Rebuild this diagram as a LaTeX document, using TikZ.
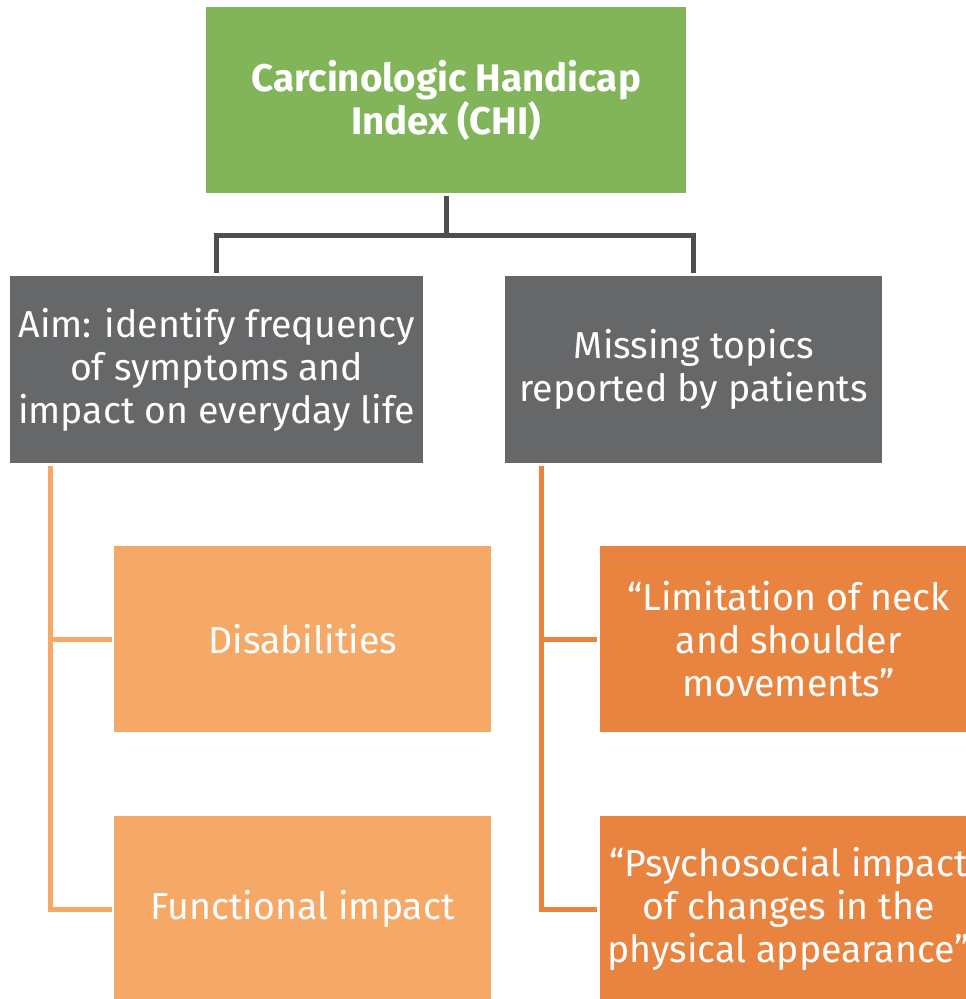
\documentclass[tikz,border=0pt]{standalone}
\usepackage{fontspec}
\setmainfont{Fira Sans}
\definecolor{chigreen}{HTML}{82B45A}
\definecolor{boxgray}{HTML}{666769}
\definecolor{linegray}{HTML}{4D4E50}
\definecolor{lightorange}{HTML}{F6A866}
\definecolor{darkorange}{HTML}{E8843F}
\begin{document}
\begin{tikzpicture}[x=1pt,y=-1pt,
  box/.style={rectangle, inner sep=0pt, anchor=north west, text=white, align=center,
    font=\fontsize{37.5}{43}\selectfont},
  dconn/.style={draw=linegray, line width=5pt},
  lconn/.style={draw=lightorange, line width=5pt},
  oconn/.style={draw=darkorange, line width=5pt}]
\useasboundingbox (0,0) rectangle (966,999);
\node[box, fill=chigreen, minimum width=480pt, minimum height=186pt,
  font=\fontsize{38.5}{43}\selectfont\bfseries] (chi) at (206,7)
  {Carcinologic Handicap\\Index (CHI)};
\node[box, fill=boxgray, minimum width=413pt, minimum height=187pt] (aim) at (10,276)
  {Aim: identify frequency\\of symptoms and\\impact on everyday life};
\node[box, fill=boxgray, minimum width=377pt, minimum height=187pt] (miss) at (505,276)
  {Missing topics\\reported by patients};
\node[box, fill=lightorange, minimum width=377pt, minimum height=186pt] (dis) at (114,546)
  {Disabilities};
\node[box, fill=lightorange, minimum width=377pt, minimum height=186pt] (func) at (114,816)
  {Functional impact};
\node[box, fill=darkorange, minimum width=377pt, minimum height=186pt] (neck) at (600,546)
  {“Limitation of neck\\and shoulder\\movements”};
\node[box, fill=darkorange, minimum width=377pt, minimum height=186pt] (psy) at (600,816)
  {“Psychosocial impact\\of changes in the\\physical appearance”};
% top connectors
\coordinate (j) at (446,235);
\draw[dconn, shorten <=3pt] (chi.south) -- (chi.south |- j);
\draw[dconn, shorten <=3pt, shorten >=3pt] (aim.north) |- (j) -| (miss.north);
% left connectors
\coordinate (la) at (50,466);
\draw[lconn, shorten >=2pt] (la) |- (func.west);
\draw[lconn, shorten >=2pt] (la |- dis.west) -- (dis.west);
% right connectors
\coordinate (ra) at (541,466);
\draw[oconn, shorten >=3pt] (ra) |- (psy.west);
\draw[oconn, shorten >=3pt] (ra |- neck.west) -- (neck.west);
\end{tikzpicture}
\end{document}
